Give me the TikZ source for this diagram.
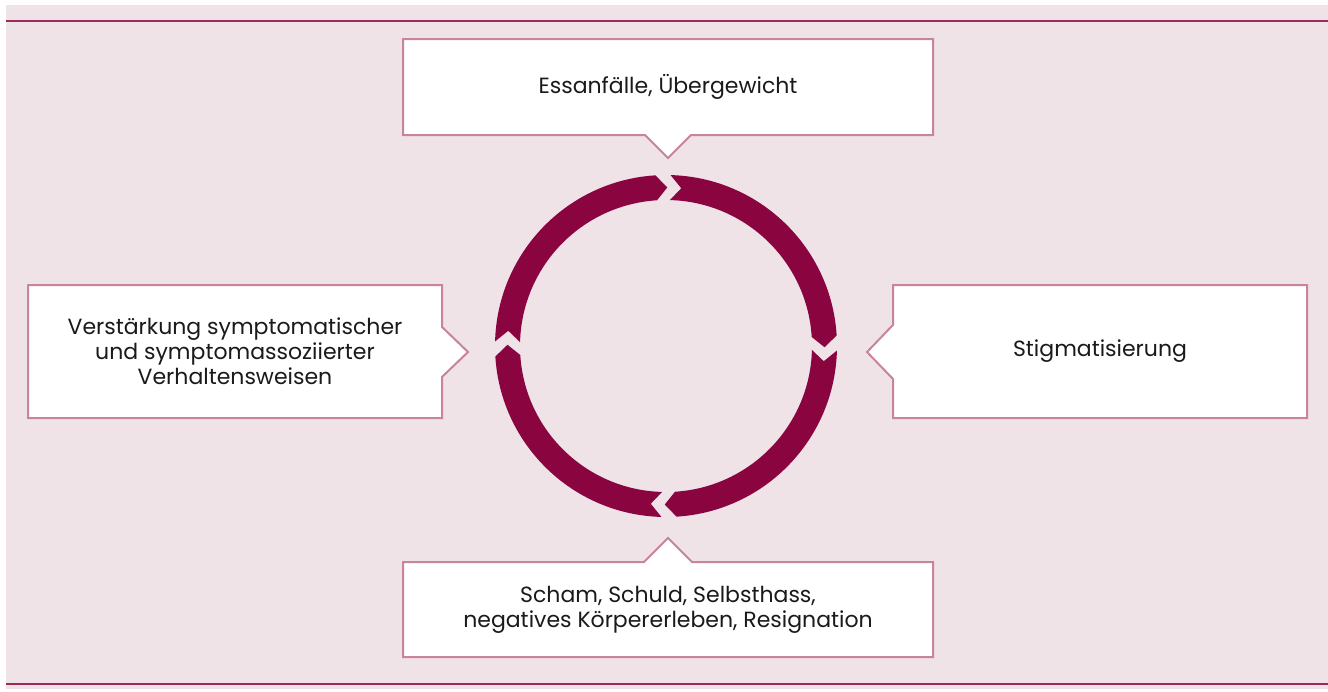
\documentclass[tikz,border=0pt]{standalone}
\usepackage{fontspec}
\setmainfont{Poppins}
\usetikzlibrary{shapes.callouts}
\definecolor{bgpink}{HTML}{EFE3E8}
\definecolor{rulecol}{HTML}{9C2A5C}
\definecolor{ringred}{HTML}{8A0540}
\definecolor{boxline}{HTML}{C8849C}
\definecolor{txt}{HTML}{1A1A1A}
\begin{document}
\begin{tikzpicture}[x=1pt,y=-1pt,
  callbox/.style={rectangle callout, draw=boxline, fill=white, line width=2pt,
    inner sep=0pt, align=center, text=txt, font=\fontsize{22}{25}\selectfont},
  rulestyle/.style={draw=rulecol, line width=2pt},
  segstyle/.style={fill=ringred}]
\useasboundingbox (0,0) rectangle (1328,691);
\fill[bgpink] (6,5) rectangle (1328,689);
\coordinate (tl) at (6,21); \coordinate (tr) at (1328,21);
\coordinate (bl) at (6,684); \coordinate (br) at (1328,684);
\draw[rulestyle] (tl) -- (tr);
\draw[rulestyle] (bl) -- (br);

\node[callbox, minimum width=530pt, minimum height=96pt,
  callout absolute pointer={(668,158)}, callout pointer width=46pt]
  (top) at (668,87) {Essanfälle, Übergewicht};
\node[callbox, minimum width=414pt, minimum height=133pt,
  callout absolute pointer={(867,352)}, callout pointer width=54pt]
  (right) at (1100,351.5) {Stigmatisierung};
\node[callbox, minimum width=414pt, minimum height=133pt,
  callout absolute pointer={(468,352)}, callout pointer width=50pt]
  (left) at (235,351.5) {Verstärkung symptomatischer\\und symptomassoziierter\\Verhaltensweisen};
\node[callbox, minimum width=530pt, minimum height=95pt,
  callout absolute pointer={(668,538)}, callout pointer width=48pt]
  (bottom) at (668,609.5) {Scham, Schuld, Selbsthass,\\negatives Körpererleben, Resignation};

\begin{scope}[shift={(666,346)}]
\foreach \g in {91,1,-89,-179}{
  \pgfmathsetmacro\sa{\g-2.53}
  \pgfmathsetmacro\ea{\g-90+2.53}
  \pgfmathsetmacro\ta{\ea-3.98}
  \pgfmathsetmacro\na{\sa-3.98}
  \fill[segstyle] (\sa:171pt) arc[start angle=\sa, end angle=\ea, radius=171pt]
    -- (\ta:158.5pt) -- (\ea:146pt)
    arc[start angle=\ea, end angle=\sa, radius=146pt]
    -- (\na:158.5pt) -- cycle;
}
\end{scope}
\end{tikzpicture}
\end{document}
